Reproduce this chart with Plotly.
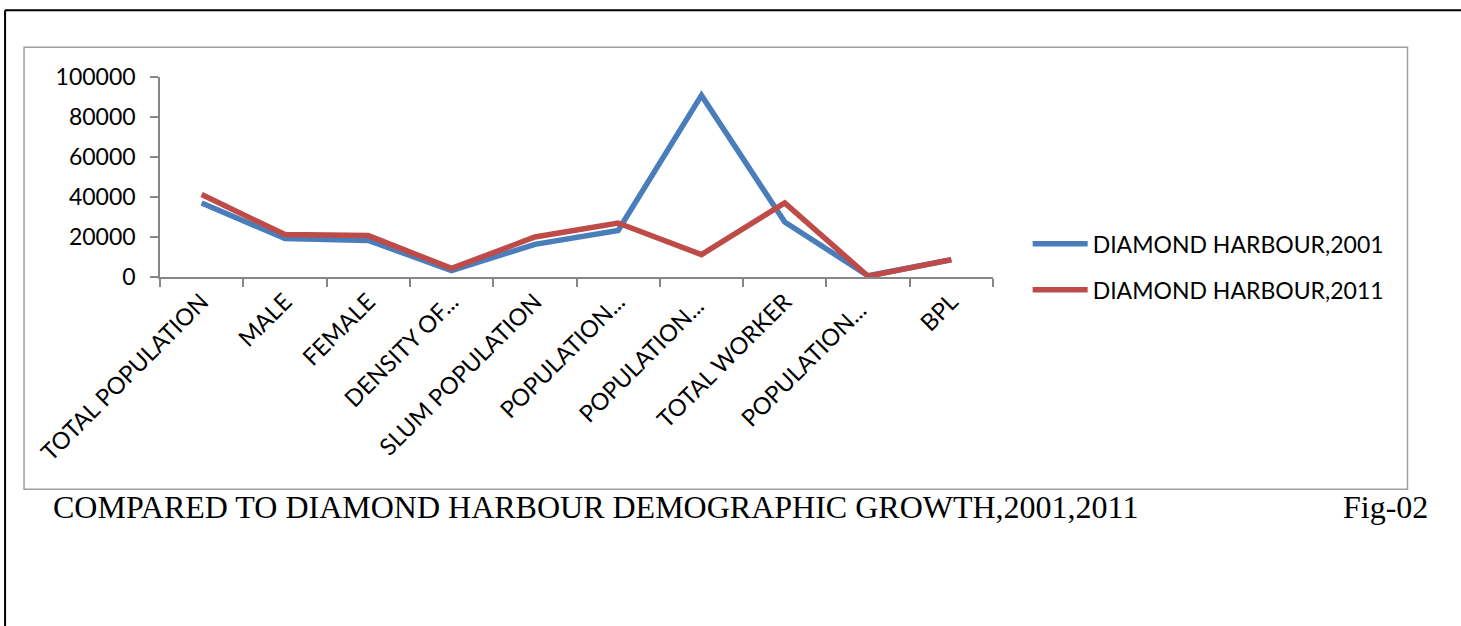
import plotly.graph_objects as go

categories = ["TOTAL POPULATION", "MALE", "FEMALE", "DENSITY OF...", "SLUM POPULATION",
              "POPULATION...", "POPULATION... ", "TOTAL WORKER", "POPULATION...  ", "BPL"]
series_2001 = [37000, 19200, 18300, 3200, 16300, 23300, 90800, 27500, 600, 8600]
series_2011 = [41200, 21200, 20700, 4300, 20000, 27000, 11200, 37000, 400, 8700]
name_2001 = "DIAMOND HARBOUR,2001"
name_2011 = "DIAMOND HARBOUR,2011"
y_ticks = [0, 20000, 40000, 60000, 80000, 100000]

W, H = 1461, 626
L, R, T, B = 160.0, 993.33, 76.67, 276.67

def px(x):
    return (x - L) / (R - L)

def py(y):
    return (B - y) / (B - T)

FONT = "Lato"
fig = go.Figure()
fig.add_trace(go.Scatter(x=categories, y=series_2001, mode="lines", name=name_2001,
                         legendgroup="a", line=dict(color="#4a7ebb", width=5.5)))
fig.add_trace(go.Scatter(x=categories, y=series_2011, mode="lines", name=name_2011,
                         legendgroup="b", line=dict(color="#be4b48", width=5.5)))

axis_col = "#868686"
fig.update_layout(
    width=W, height=H,
    margin=dict(l=L, r=W - R, t=T, b=H - B, autoexpand=False),
    paper_bgcolor="white", plot_bgcolor="white",
    font=dict(family=FONT, size=22, color="black"),
    showlegend=True,
    legend=dict(x=px(1028), y=py(222), xanchor="left", yanchor="top",
                traceorder="grouped", tracegroupgap=13, itemwidth=55,
                font=dict(family=FONT, size=23, color="black"),
                bgcolor="rgba(0,0,0,0)"),
    xaxis=dict(type="category", range=[-0.5, 9.5], showgrid=False, zeroline=False,
               showline=True, linecolor=axis_col, linewidth=1.5,
               ticks="outside", ticklen=8, tickcolor=axis_col, tickwidth=1.5,
               tickson="boundaries", tickangle=-45,
               tickfont=dict(family=FONT, size=23.5, color="black")),
    yaxis=dict(range=[0, 100000], tickvals=y_ticks, ticktext=[str(v) for v in y_ticks],
               showgrid=False, zeroline=False,
               showline=True, linecolor=axis_col, linewidth=1.5,
               ticks="outside", ticklen=8, tickcolor=axis_col, tickwidth=1.5,
               ticklabelstandoff=10,
               tickfont=dict(family=FONT, size=23, color="black")),
)

shapes = [
    # outer page border (left and top)
    dict(type="line", xref="paper", yref="paper", x0=px(5), x1=px(5), y0=py(10), y1=py(640),
         line=dict(color="black", width=2)),
    dict(type="line", xref="paper", yref="paper", x0=px(5), x1=px(1470), y0=py(10), y1=py(10),
         line=dict(color="black", width=2)),
    # chart area box
    dict(type="rect", xref="paper", yref="paper", x0=px(24), x1=px(1408), y0=py(47), y1=py(489),
         line=dict(color="#a0a0a0", width=1.5), fillcolor="rgba(0,0,0,0)", layer="below"),
]
fig.update_layout(shapes=shapes)

fig.add_annotation(xref="paper", yref="paper", x=px(51), y=py(507), xanchor="left", yanchor="middle",
                   text="COMPARED TO DIAMOND HARBOUR DEMOGRAPHIC GROWTH,2001,2011", showarrow=False,
                   font=dict(family="Liberation Serif", size=32, color="black"))
fig.add_annotation(xref="paper", yref="paper", x=px(1431), y=py(507), xanchor="right", yanchor="middle",
                   text="Fig-02", showarrow=False,
                   font=dict(family="Liberation Serif", size=32, color="black"))

fig.write_html("out.html")
